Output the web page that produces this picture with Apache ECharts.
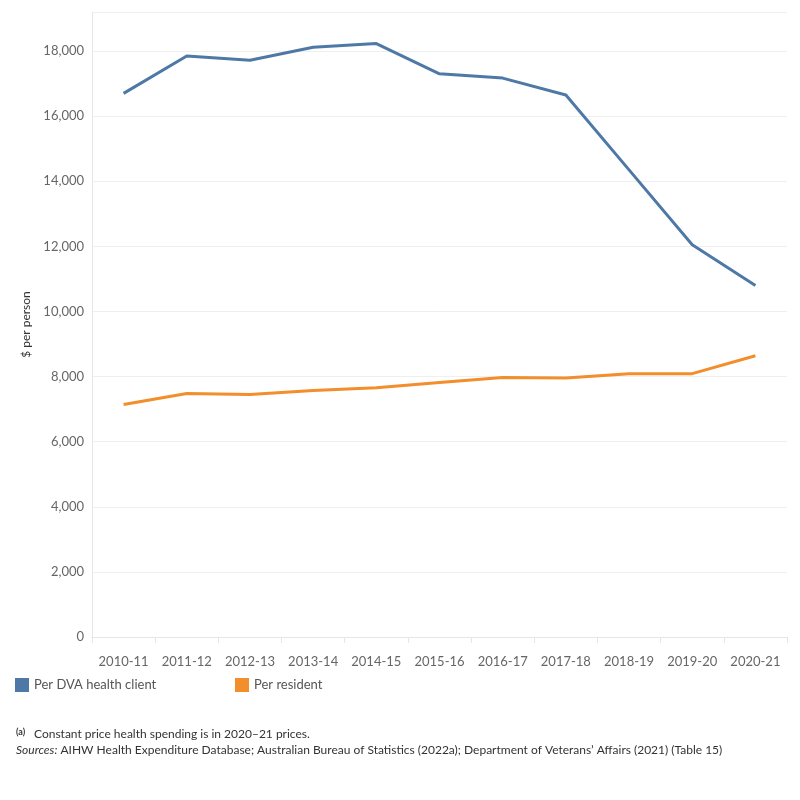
<!DOCTYPE html>
<html>
<head>
<meta charset="utf-8">
<script src="https://cdn.jsdelivr.net/npm/echarts@6/dist/echarts.min.js"></script>
<style>
  html, body { margin: 0; padding: 0; background: #fff; }
  #chart { width: 800px; height: 800px; }
</style>
</head>
<body>
<div id="chart"></div>
<script>
// financial years on the x axis
const years = ["2010-11", "2011-12", "2012-13", "2013-14", "2014-15", "2015-16",
  "2016-17", "2017-18", "2018-19", "2019-20", "2020-21"];

// $ per person, constant 2020-21 prices
const perDvaClient = [16700, 17850, 17720, 18120, 18230, 17300, 17170, 16650, 14350, 12050, 10800];
const perResident = [7140, 7480, 7450, 7570, 7660, 7820, 7970, 7960, 8090, 8090, 8640];

const seriesNames = ["Per DVA health client", "Per resident"];
const colors = ["#4e79a7", "#f28e2b"];

const font = "Lato, 'Open Sans', sans-serif";

const chart = echarts.init(document.getElementById("chart"));

const legendText = { fontSize: 13, color: "#555", fontFamily: font };

const option = {
  animation: false,
  textStyle: { fontFamily: font },
  grid: { left: 92, right: 13, top: 12, bottom: 163 },
  legend: [
    {
      data: [seriesNames[0]],
      left: 15, top: 678, padding: 0,
      icon: "rect", itemWidth: 14, itemHeight: 14,
      textStyle: legendText
    },
    {
      data: [seriesNames[1]],
      left: 235, top: 678, padding: 0,
      icon: "rect", itemWidth: 14, itemHeight: 14,
      textStyle: legendText
    }
  ],
  xAxis: {
    type: "category",
    data: years,
    boundaryGap: true,
    offset: 9,
    axisLine: { show: true, lineStyle: { color: "#e6e6e6", width: 1 } },
    axisTick: { show: true, length: 6, lineStyle: { color: "#e6e6e6" } },
    axisLabel: { color: "#666", fontSize: 13, margin: 9, interval: 0, fontFamily: font }
  },
  yAxis: {
    type: "value",
    min: 0,
    max: 19200,
    interval: 2000,
    name: "$ per person",
    nameLocation: "middle",
    nameGap: 58,
    nameTextStyle: { color: "#333", fontSize: 12, fontFamily: font },
    axisLine: { show: true, lineStyle: { color: "#e6e6e6" } },
    axisTick: { show: false },
    axisLabel: {
      color: "#666", fontSize: 13, margin: 8, fontFamily: font,
      formatter: v => (v % 2000 === 0 ? v.toLocaleString("en-US") : "")
    },
    splitLine: { show: true, lineStyle: { color: "#efefef", width: 1 } }
  },
  series: [
    {
      name: seriesNames[0],
      type: "line",
      data: perDvaClient,
      symbol: "none",
      lineStyle: { color: colors[0], width: 3 },
      itemStyle: { color: colors[0] }
    },
    {
      name: seriesNames[1],
      type: "line",
      data: perResident,
      symbol: "none",
      lineStyle: { color: colors[1], width: 3 },
      itemStyle: { color: colors[1] }
    }
  ],
  graphic: [
    {
      type: "text",
      left: 16, top: 728,
      style: {
        text: "(a)",
        font: "bold 9px " + font,
        fill: "#333"
      }
    },
    {
      type: "text",
      left: 34, top: 728,
      style: {
        text: "Constant price health spending is in 2020\u201321 prices.",
        font: "12px " + font,
        fill: "#333"
      }
    },
    {
      type: "text",
      left: 16, top: 744,
      style: {
        text: "{i|Sources:} AIHW Health Expenditure Database; Australian Bureau of Statistics (2022a); Department of Veterans\u2019 Affairs (2021) (Table 15)",
        font: "12px " + font,
        fill: "#333",
        rich: {
          i: { fontStyle: "italic", fontSize: 12, fontFamily: font, fill: "#333" }
        }
      }
    }
  ]
};

chart.setOption(option);
</script>
</body>
</html>
